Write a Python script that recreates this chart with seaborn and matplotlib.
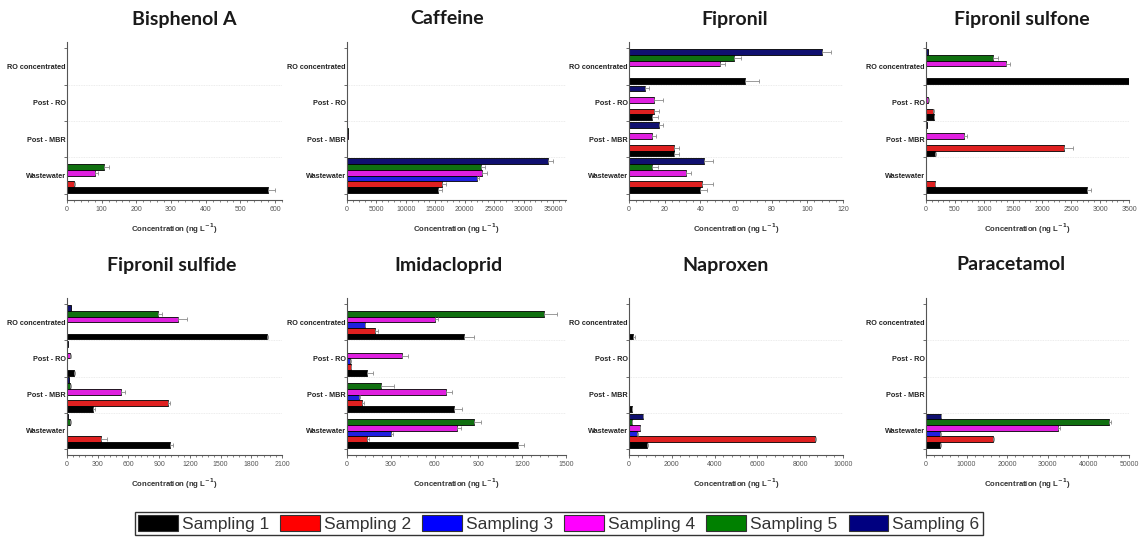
import matplotlib
matplotlib.use("Agg")
import numpy as np
import pandas as pd
import matplotlib.pyplot as plt
import seaborn as sns
from matplotlib.patches import Patch
from matplotlib.ticker import MultipleLocator, AutoMinorLocator

sns.set_style("white")
plt.rcParams["font.family"] = ["Liberation Sans", "DejaVu Sans"]

# display order, top to bottom
sites = ["RO concentrated", "Post - RO", "Post - MBR", "Wastewater"]
samplings = ["Sampling 1", "Sampling 2", "Sampling 3", "Sampling 4", "Sampling 5", "Sampling 6"]
colors = ["#000000", "#ff0000", "#0000ff", "#ff00ff", "#008000", "#000080"]

# rows = sites, columns = Sampling 1..6 (ng/L)
bisphenol_a = [[0, 0, 0, 0, 0, 0],
               [0, 0, 0, 0, 0, 0],
               [0, 0, 0, 0, 0, 0],
               [580, 20, 0, 80, 108, 0]]
bisphenol_a_err = [[0] * 6, [0] * 6, [0] * 6, [20, 3, 0, 8, 14, 0]]

caffeine = [[0, 0, 0, 0, 0, 0],
            [0, 0, 0, 0, 0, 0],
            [0, 0, 0, 150, 150, 0],
            [15500, 16200, 22100, 23000, 22800, 34200]]
caffeine_err = [[0] * 6, [0] * 6, [0] * 6, [600, 600, 400, 700, 600, 800]]

fipronil = [[65, 0, 0, 51, 59, 108],
            [13, 14, 0, 14, 0, 9],
            [25, 25, 0, 13, 0, 17],
            [40, 41, 0, 32, 13, 42]]
fipronil_err = [[8, 0, 0, 3, 4, 5],
                [3, 3, 0, 5, 0, 2],
                [3, 3, 0, 2, 0, 2],
                [4, 6, 0, 3, 3, 5]]

fipronil_sulfone = [[3500, 0, 0, 1380, 1150, 40],
                    [130, 120, 0, 40, 0, 5],
                    [160, 2380, 0, 650, 0, 10],
                    [2780, 150, 0, 0, 0, 0]]
fipronil_sulfone_err = [[0, 0, 0, 70, 90, 0],
                        [10, 10, 0, 5, 0, 0],
                        [10, 150, 0, 50, 0, 0],
                        [60, 10, 0, 0, 0, 0]]

fipronil_sulfide = [[1950, 0, 0, 1080, 890, 40],
                    [70, 0, 0, 30, 0, 10],
                    [250, 990, 0, 530, 30, 15],
                    [1010, 330, 0, 0, 30, 10]]
fipronil_sulfide_err = [[10, 0, 0, 90, 40, 0],
                        [5, 0, 0, 5, 0, 0],
                        [20, 15, 0, 40, 5, 0],
                        [30, 60, 0, 0, 5, 0]]

imidacloprid = [[800, 190, 120, 600, 1350, 0],
                [140, 25, 20, 380, 0, 0],
                [730, 100, 80, 680, 230, 0],
                [1170, 140, 300, 750, 870, 0]]
imidacloprid_err = [[70, 20, 5, 25, 90, 0],
                    [40, 5, 5, 40, 0, 0],
                    [60, 15, 10, 40, 90, 0],
                    [40, 10, 15, 30, 50, 0]]

naproxen = [[200, 0, 0, 0, 0, 0],
            [20, 0, 0, 0, 0, 0],
            [120, 0, 0, 0, 0, 0],
            [850, 8700, 380, 500, 150, 650]]
naproxen_err = [[60, 0, 0, 0, 0, 0],
                [0, 0, 0, 0, 0, 0],
                [20, 0, 0, 0, 0, 0],
                [30, 60, 20, 20, 10, 20]]

paracetamol = [[0, 0, 0, 0, 0, 0],
               [0, 0, 0, 0, 0, 0],
               [0, 0, 0, 0, 0, 0],
               [3500, 16500, 3500, 32500, 45000, 3700]]
paracetamol_err = [[0] * 6, [0] * 6, [0] * 6, [100, 200, 100, 500, 600, 100]]

panels = [
    ("Bisphenol A", bisphenol_a, bisphenol_a_err, 620, 100),
    ("Caffeine", caffeine, caffeine_err, 37200, 5000),
    ("Fipronil", fipronil, fipronil_err, 120, 20),
    ("Fipronil sulfone", fipronil_sulfone, fipronil_sulfone_err, 3500, 500),
    ("Fipronil sulfide", fipronil_sulfide, fipronil_sulfide_err, 2100, 300),
    ("Imidacloprid", imidacloprid, imidacloprid_err, 1500, 300),
    ("Naproxen", naproxen, naproxen_err, 10000, 2000),
    ("Paracetamol", paracetamol, paracetamol_err, 50000, 10000),
]

W, H = 1139, 538
fig = plt.figure(figsize=(W / 100, H / 100), dpi=100, facecolor="white")

lefts = [67, 347, 629, 926]
widths = [215, 219, 214, 203]
rows = [(42, 200), (298, 455)]
title_x = [184, 447, 735, 1022, 172, 449, 726, 1011]
title_y = [19, 265]

hue_order = samplings[::-1]   # Sampling 1 at the bottom of each group
pal = dict(zip(samplings, colors))
bar_w = 0.95

for i, (name, vals, errs, xmax, step) in enumerate(panels):
    r, c = divmod(i, 4)
    top, bot = rows[r]
    ax = fig.add_axes([lefts[c] / W, 1 - bot / H, widths[c] / W, (bot - top) / H])

    df = pd.DataFrame([(s, samp, vals[si][k], errs[si][k])
                       for si, s in enumerate(sites)
                       for k, samp in enumerate(samplings)],
                      columns=["site", "sampling", "value", "err"])

    sns.barplot(data=df, y="site", x="value", hue="sampling", order=sites,
                hue_order=hue_order, palette=pal, orient="h", errorbar=None,
                width=bar_w, edgecolor="black", linewidth=0.6, legend=False, ax=ax)

    # one-sided error bars
    hgt = bar_w / len(samplings)
    for p in ax.patches:
        if p.get_width() <= 0:
            p.set_visible(False)
            continue
        yc = p.get_y() + p.get_height() / 2
        si = int(round(yc))
        hi = int((yc - si + bar_w / 2) // hgt)
        samp = hue_order[min(max(hi, 0), 5)]
        e = df[(df.site == sites[si]) & (df.sampling == samp)]["err"].iloc[0]
        if e > 0:
            ax.errorbar(p.get_width(), yc, xerr=[[0], [e]], fmt="none",
                        ecolor="#8a8a8a", elinewidth=0.6, capsize=1.2, capthick=0.6)

    for b in [0.5, 1.5, 2.5]:
        ax.axhline(b, color="#e6e6e6", lw=0.6, ls=(0, (1, 1)), zorder=0)

    ax.set_xlim(0, xmax)
    ax.xaxis.set_major_locator(MultipleLocator(step))
    ax.xaxis.set_minor_locator(AutoMinorLocator(5))
    ax.set_yticks(range(len(sites)))
    ax.set_yticks([-0.5, 0.5, 1.5, 2.5, 3.5], minor=True)
    ax.tick_params(axis="y", which="major", length=0, pad=1, labelsize=5.2, colors="#222222")
    ax.tick_params(axis="y", which="minor", length=2.5, width=0.6, color="#555555", left=True)
    ax.tick_params(axis="x", which="major", length=2.5, width=0.6, labelsize=5, colors="#555555", bottom=True, pad=2)
    ax.tick_params(axis="x", which="minor", length=1.5, width=0.5, color="#555555", bottom=True)
    for lab in ax.get_yticklabels():
        lab.set_fontweight("bold")
    for side in ["top", "right"]:
        ax.spines[side].set_visible(False)
    for side in ["left", "bottom"]:
        ax.spines[side].set_color("#555555")
        ax.spines[side].set_linewidth(0.8)

    ax.set_ylabel("")
    ax.set_xlabel(r"Concentration (ng L$^{\mathbf{-1}}$)", fontsize=5.6, fontweight="bold",
                  color="#333333", labelpad=6)
    fig.text(title_x[i] / W, 1 - title_y[r] / H, name, ha="center", va="center",
             fontsize=14, fontweight="bold", family=["Lato", "DejaVu Sans"], color="#1a1a1a")

handles = [Patch(facecolor=col, edgecolor="#333333", linewidth=0.8) for col in colors]
leg = fig.legend(handles, samplings, loc="center", bbox_to_anchor=(559 / W, 1 - 523.5 / H), ncol=6,
                 prop={"family": ["Liberation Sans", "DejaVu Sans"], "size": 12.5},
                 frameon=True, fancybox=False, edgecolor="black",
                 handlelength=2.3, handleheight=1.05, handletextpad=0.23, columnspacing=0.63,
                 borderpad=0.2, borderaxespad=0)
leg.get_frame().set_linewidth(1.0)
for t in leg.get_texts():
    t.set_color("#333333")

fig.savefig("out.png", dpi=100, facecolor="white")
